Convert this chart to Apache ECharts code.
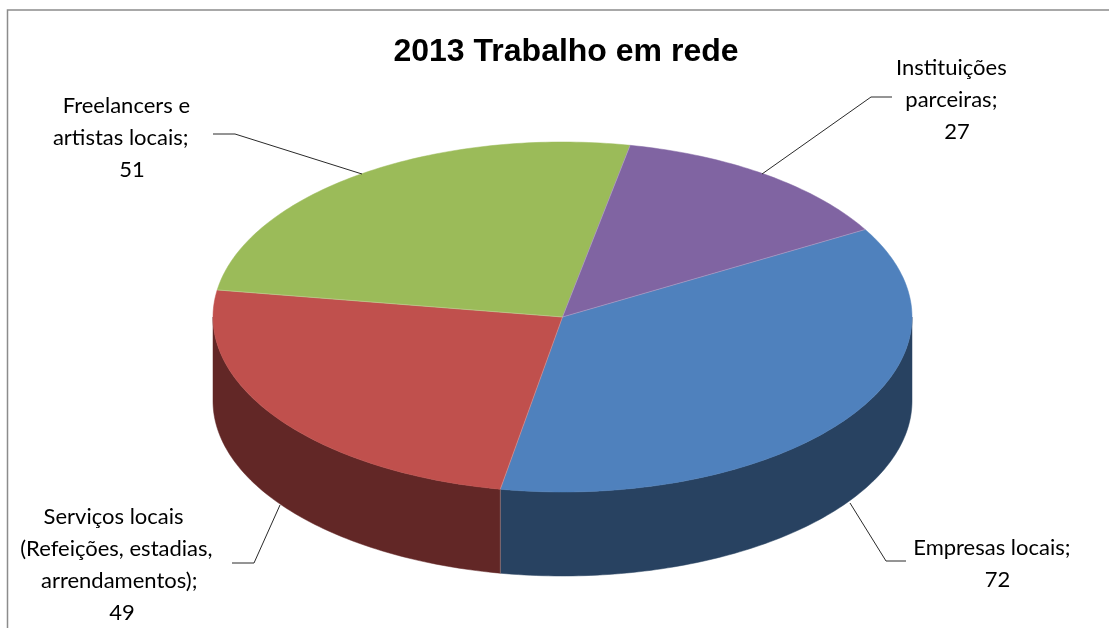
<!DOCTYPE html>
<html>
<head>
<meta charset="utf-8">
<style>html,body{margin:0;padding:0;background:#fff}#c{width:1109px;height:628px}</style>
<script src="https://cdn.jsdelivr.net/npm/echarts@6/dist/echarts.min.js"></script>
</head>
<body>
<div id="c"></div>
<script>
const chartTitle = '2013 Trabalho em rede';
const categories = ['Empresas locais', 'Serviços locais (Refeições, estadias, arrendamentos)', 'Freelancers e artistas locais', 'Instituições parceiras'];
const values = [72, 49, 51, 27];
const labelLines = [
  ['Empresas locais;  '],
  ['Serviços locais   ', '(Refeições, estadias,  ', 'arrendamentos); '],
  ['Freelancers e  ', 'artistas locais;    '],
  ['Instituições  ', 'parceiras;  ']
];
const topColors = ['#4f81bd', '#c0504d', '#9bbb59', '#8064a2'];
const wallColors = ['#284261', '#622726', '#5e7130', '#4c3c61'];
const seamColor = 'rgba(255,255,255,0.24)';

const layout = {
  cx: 562.5, cy: 317, rx: 349.5, ry: 175, depth: 84, startAngle: 60,
  labels: [
    {x: 997.5, y: 532},
    {x: 122, y: 501},
    {x: 132, y: 90},
    {x: 957, y: 52}
  ],
  leaders: [
    [[850, 503], [886, 561], [906, 561]],
    [[280, 505], [254, 563], [232, 563]],
    [[362, 174], [235, 134], [213, 134]],
    [[762, 174], [871, 97], [892, 97]]
  ]
};

const total = values.reduce((a, b) => a + b, 0);
const starts = [];
values.reduce((acc, v, i) => { starts[i] = acc; return acc + v; }, 0);
const toAngle = v => layout.startAngle + v / total * 360;
const pt = (deg, dy) => {
  const r = deg * Math.PI / 180;
  return [layout.cx + layout.rx * Math.sin(r), layout.cy - layout.ry * Math.cos(r) + (dy || 0)];
};
const arc = (a0, a1, dy) => {
  const out = [];
  const n = Math.max(2, Math.ceil(Math.abs(a1 - a0)));
  for (let i = 0; i <= n; i++) out.push(pt(a0 + (a1 - a0) * i / n, dy));
  return out;
};
// portions of a slice's rim that face the viewer (90..270 degrees, modulo 360)
const wallRanges = (a0, a1) => {
  const out = [];
  for (const k of [0, 360]) {
    const s = Math.max(a0, 90 + k), e = Math.min(a1, 270 + k);
    if (e > s) out.push([s, e]);
  }
  return out;
};
const facesViewer = a => { const m = a % 360; return m > 90 && m < 270; };

function renderItem(params, api) {
  const i = params.dataIndex;
  const a0 = toAngle(starts[i]);
  const a1 = toAngle(starts[i] + api.value(0));
  const children = [];
  wallRanges(a0, a1).forEach(([s, e]) => {
    children.push({
      type: 'polygon',
      shape: {points: arc(s, e, 0).concat(arc(e, s, layout.depth))},
      style: {fill: wallColors[i], stroke: wallColors[i], lineWidth: 0.5}
    });
  });
  children.push({
    type: 'polygon',
    shape: {points: [[layout.cx, layout.cy]].concat(arc(a0, a1, 0))},
    style: {fill: topColors[i], stroke: topColors[i], lineWidth: 0.5}
  });
  children.push({
    type: 'polyline',
    shape: {points: layout.leaders[i]},
    style: {fill: null, stroke: '#2a2a2a', lineWidth: 1}
  });
  children.push({
    type: 'text',
    style: {
      text: labelLines[i].concat([String(api.value(0))]).join('\n'),
      x: layout.labels[i].x, y: layout.labels[i].y,
      align: 'center', verticalAlign: 'top',
      font: '22px Lato', lineHeight: 32, fill: '#000'
    }
  });
  return {type: 'group', children};
}

// thin pale seams between slices, drawn above all slices
function renderSeams(params, api) {
  const i = params.dataIndex;
  const a = toAngle(starts[i]);
  const children = [{
    type: 'line',
    shape: {x1: layout.cx, y1: layout.cy, x2: pt(a)[0], y2: pt(a)[1]},
    style: {stroke: seamColor, lineWidth: 1}
  }];
  if (facesViewer(a)) {
    children.push({
      type: 'line',
      shape: {x1: pt(a)[0], y1: pt(a)[1], x2: pt(a, layout.depth)[0], y2: pt(a, layout.depth)[1]},
      style: {stroke: seamColor, lineWidth: 1}
    });
  }
  return {type: 'group', children};
}

const chart = echarts.init(document.getElementById('c'), null, {renderer: 'canvas'});
chart.setOption({
  animation: false,
  backgroundColor: '#fff',
  title: {
    text: chartTitle, left: 561, top: 31, textAlign: 'center',
    textStyle: {fontFamily: 'Liberation Sans', fontWeight: 'bold', fontSize: 32, color: '#000'}
  },
  graphic: [
    {type: 'polyline', shape: {points: [[7.5, 628], [7.5, 10], [1109, 10]]},
     style: {fill: null, stroke: '#8c8c8c', lineWidth: 1.5}, silent: true}
  ],
  series: [{
    type: 'custom',
    coordinateSystem: 'none',
    data: values.map((v, i) => ({name: categories[i], value: [v]})),
    renderItem
  }, {
    type: 'custom',
    coordinateSystem: 'none',
    data: values.map(v => [v]),
    renderItem: renderSeams,
    silent: true
  }]
});
</script>
</body>
</html>
